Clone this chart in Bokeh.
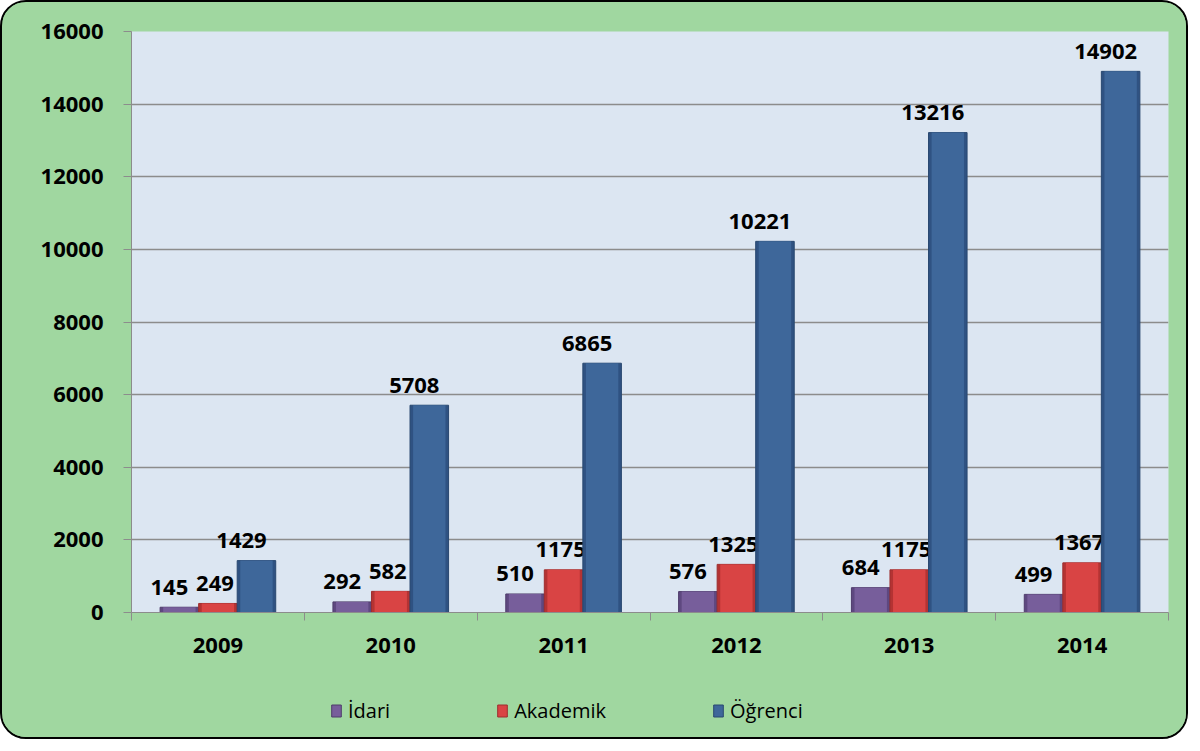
from bokeh.plotting import figure
from bokeh.layouts import column
from bokeh.models import FixedTicker, Legend, LegendItem, Range1d
from bokeh.core.properties import value
from bokeh.embed import file_html
from bokeh.resources import INLINE

# ---- data ----
years = ["2009", "2010", "2011", "2012", "2013", "2014"]
idari = [145, 292, 510, 576, 684, 499]
akademik = [249, 582, 1175, 1325, 1175, 1367]
ogrenci = [1429, 5708, 6865, 10221, 13216, 14902]
series_names = ["İdari", "Akademik", "Öğrenci"]
y_ticks = [0, 2000, 4000, 6000, 8000, 10000, 12000, 14000, 16000]

# ---- styles ----
FONT = "Open Sans"
GREEN = "#A0D7A0"
fills = ["#775E9B", "#D94444", "#3E679A"]
edges = ["#5E4880", "#B43333", "#2F5282"]
lines = ["#4F3D6B", "#9E2E2E", "#294870"]
bar_w = 0.223
dodge = [-bar_w, 0.0, bar_w]
label_dx = [-10, -3, -15]
grid_col = "#8C8C8C"

p = figure(width=1184, height=660, x_range=(0, len(years)), y_range=(0, 16000),
           output_backend="svg", toolbar_location=None, title=None,
           min_border_left=129, min_border_right=18, min_border_top=29, min_border_bottom=50)
p.background_fill_color = "#DCE6F2"
p.border_fill_color = GREEN
p.outline_line_color = None

series = [idari, akademik, ogrenci]
for k, vals in enumerate(series):
    xs = [i + 0.5 + dodge[k] for i in range(len(years))]
    p.vbar(x=xs, top=vals, width=bar_w, fill_color=edges[k], line_color=lines[k], line_width=1)
    p.vbar(x=xs, top=vals, width=bar_w * 0.84, fill_color=fills[k], line_color=None)
    p.text(x=xs, y=vals, text=[str(v) for v in vals], text_font=value(FONT),
           text_font_style="bold", text_font_size="22px", text_color="black",
           text_align="center", text_baseline="alphabetic", x_offset=label_dx[k], y_offset=-20)

# y axis
p.yaxis.ticker = FixedTicker(ticks=y_ticks)
p.yaxis.minor_tick_line_color = None
p.yaxis.major_tick_out = 8
p.yaxis.major_tick_in = 0
p.yaxis.major_tick_line_color = grid_col
p.yaxis.axis_line_color = grid_col
p.yaxis.major_label_standoff = 20
p.yaxis.major_label_text_font = FONT
p.yaxis.major_label_text_font_style = "bold"
p.yaxis.major_label_text_font_size = "22px"
p.yaxis.major_label_text_color = "black"

# x axis: labels at category centres, tick marks at category boundaries
centres = [i + 0.5 for i in range(len(years))]
p.xaxis.ticker = FixedTicker(ticks=centres, minor_ticks=list(range(len(years) + 1)))
p.xaxis.major_label_overrides = {c: y for c, y in zip(centres, years)}
p.xaxis.major_tick_line_color = None
p.xaxis.major_tick_out = 8
p.xaxis.minor_tick_out = 8
p.xaxis.minor_tick_in = 0
p.xaxis.minor_tick_line_color = grid_col
p.xaxis.axis_line_color = grid_col
p.xaxis.major_label_standoff = 17
p.xaxis.major_label_text_font = FONT
p.xaxis.major_label_text_font_style = "bold"
p.xaxis.major_label_text_font_size = "22px"
p.xaxis.major_label_text_color = "black"

p.xgrid.grid_line_color = None
p.ygrid.ticker = FixedTicker(ticks=y_ticks)
p.ygrid.grid_line_color = grid_col
p.ygrid.grid_line_width = 1.5

# legend strip below the chart
q = figure(width=1184, height=75, output_backend="svg", toolbar_location=None, title=None,
           x_range=Range1d(0, 1), y_range=Range1d(0, 1),
           x_axis_location=None, y_axis_location=None,
           min_border_left=0, min_border_right=0, min_border_top=0, min_border_bottom=0)
q.background_fill_color = GREEN
q.border_fill_color = GREEN
q.outline_line_color = None
q.grid.visible = False
leg_r = [q.vbar(x=[-5], top=[0], width=0.01, fill_color=fills[k], line_color=lines[k])
         for k in range(3)]
lg = Legend(items=[LegendItem(label=series_names[k], renderers=[leg_r[k]]) for k in range(3)],
            location=(199, 13), orientation="horizontal", spacing=106,
            padding=0, margin=0, border_line_color=None, background_fill_alpha=0,
            glyph_width=12, glyph_height=15, label_standoff=6, label_height=20,
            label_text_font=FONT, label_text_font_size="20px", label_text_color="black")
q.add_layout(lg)

layout = column(p, q, spacing=0)
layout.styles = {"border": "2px solid black", "border-radius": "26px", "overflow": "hidden",
                 "background-color": GREEN}

open("out.html", "w").write(file_html(layout, INLINE))
